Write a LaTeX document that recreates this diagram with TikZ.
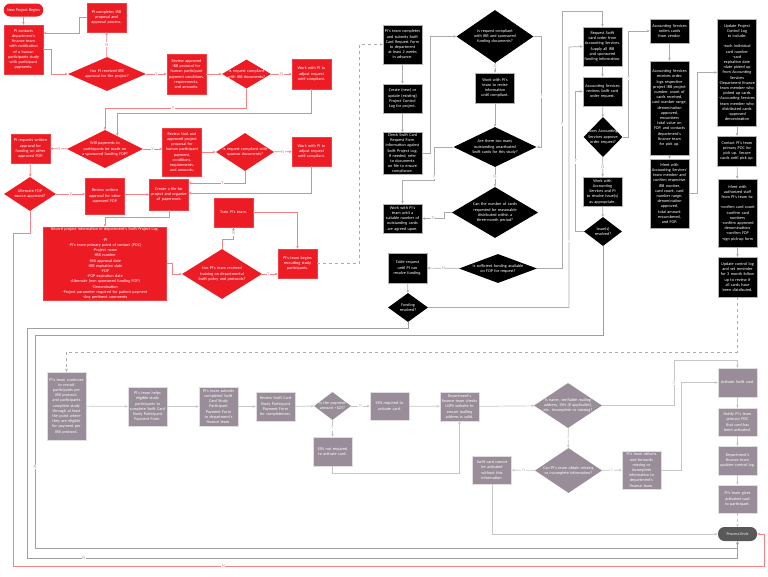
\documentclass[tikz,border=0pt]{standalone}
\usepackage{fontspec}
\newfontfamily\boxfont{Carlito}
\usetikzlibrary{shapes.geometric,arrows.meta,calc}
\hyphenpenalty=10000
\exhyphenpenalty=10000
\definecolor{swiftred}{RGB}{237,28,36}
\definecolor{swiftgray}{RGB}{152,141,152}
\definecolor{endgray}{RGB}{88,88,88}
\tikzset{
    box/.style     = {rectangle, align=center, text width=36pt, inner xsep=1.5pt, inner ysep=1pt,
                      font=\boxfont\fontsize{4.2}{5.2}\selectfont},
    redbox/.style  = {box, fill=swiftred, draw=swiftred!85!white, text=white},
    blkbox/.style  = {box, fill=black, draw=gray!60, text=white},
    grybox/.style  = {box, fill=swiftgray, draw=gray!25, text=white},
    diam/.style    = {diamond, aspect=2, align=center, inner xsep=-5pt, inner ysep=-1pt,
                      font=\boxfont\fontsize{4.2}{5.2}\selectfont},
    reddiam/.style = {diam, fill=swiftred, text=white},
    blkdiam/.style = {diam, fill=black, text=white},
    grydiam/.style = {diam, fill=swiftgray, text=white},
    pill/.style    = {rectangle, rounded corners=6.5pt, align=center, minimum width=39pt,
                      font=\boxfont\fontsize{4.2}{5.2}\selectfont},
    tip/.style     = {-{Stealth[length=3pt,width=2.6pt]}},
    redarr/.style  = {tip, color=swiftred!55, line width=0.7pt},
    blkarr/.style  = {tip, color=gray!65, line width=0.7pt},
    gryarr/.style  = {tip, color=gray!45, line width=0.7pt},
    dasharr/.style = {blkarr, dashed},
    lbl/.style     = {fill=white, inner sep=0.6pt, font=\boxfont\fontsize{4.6}{5}\selectfont}
}

\begin{document}
\begin{tikzpicture}[x=1pt, y=-1pt]
    \useasboundingbox (0,0) rectangle (768,576);

    % Red section: project set-up
    \node[pill, fill=swiftred, text=white, minimum height=13pt] (start) at (23.5,10) {New Project Begins};
    \node[redbox, minimum height=49pt] (contact) at (23.5,49.5) {PI contacts department's finance team with notification of a human participants study with participant payments.};
    \node[redbox, minimum height=29pt] (irbprop) at (106.5,17.5) {PI completes IRB proposal and approval process.};
    \node[reddiam, minimum width=78pt, minimum height=34pt, text width=60pt] (irbq) at (107,74) {Has PI received IRB approval for the project?};
    \node[redbox, minimum height=40pt] (revirb) at (186.5,74) {Review approved IRB protocol for human participant payment conditions, requirements, and amounts.};
    \node[reddiam, minimum width=49pt, minimum height=29pt, text width=40pt] (irbcomp) at (246.5,74) {Is request compliant with IRB documents?};
    \node[redbox, minimum height=30pt] (adjust1) at (311.5,74) {Work with PI to adjust request until compliant.};
    \node[reddiam, minimum width=76pt, minimum height=38pt, text width=58pt] (fopq) at (105,149) {Will payments to participants be made on a sponsored funding FOP?};
    \node[redbox, minimum height=29pt] (reqalt) at (30.5,148.5) {PI requests written approval for funding on other approved FOP.};
    \node[redbox, minimum height=48pt] (revnoa) at (182,152) {Review NoA and approved project proposal for human participant payment, conditions, requirements, and amounts.};
    \node[reddiam, minimum width=58pt, minimum height=38pt, text width=46pt] (spcomp) at (245,152) {Is request compliant with sponsor documents?};
    \node[redbox, minimum height=29pt] (adjust2) at (311.5,151.5) {Work with PI to adjust request until compliant.};
    \node[reddiam, minimum width=52pt, minimum height=34pt, text width=40pt] (altq) at (30,194) {Alternate FOP source approved?};
    \node[redbox, minimum height=36pt] (revalt) at (105,196) {Review written approval for other approved FOP.};
    \node[redbox, minimum height=31pt] (file) at (169,194.5) {Create a file for project and organize all paperwork.};
    \node[redbox, text width=120pt, minimum height=73pt] (record) at (105,263.5) {Record project information in department's Swift Project Log.\\[5.2pt]
        -PI\\ -PI's team primary point of contact (POC)\\ -Project name\\ -IRB number\\ -IRB approval date\\ -IRB expiration date\\ -FOP\\ -FOP expiration date\\
        -Alternate (non sponsored funding FOP)\\ -Denomination\\ -Project parameter required for patient payment\\ -Any pertinent comments};
    \node[reddiam, minimum width=80pt, minimum height=50pt, text width=60pt] (trainq) at (222,274) {Has PI's team received training on departmental Swift policy and protocols?};
    \node[redbox, minimum height=29pt] (train) at (233.5,212.5) {Train PI's team.};
    \node[redbox, minimum height=29pt] (recruit) at (297.5,263.5) {PI's team begins recruiting study participants.};

    % Black section: card request and pick-up
    \node[blkbox, minimum height=39pt] (submit) at (402.5,44.5) {PI's team completes and submits Swift Card Request Form to department at least 2 weeks in advance.};
    \node[blkbox, minimum height=29pt] (ctrllog) at (402.5,98.5) {Create (new) or update (existing) Project Control Log for project.};
    \node[blkbox, minimum height=39pt] (check) at (402.5,153.5) {Check Swift Card Request Form information against Swift Project Log. If needed, refer to documents on file to ensure compliance.};
    \node[blkdiam, minimum width=77pt, minimum height=53pt, text width=50pt] (fundq) at (495,36.5) {Is request compliant with IRB and sponsored funding documents?};
    \node[blkbox, minimum height=30pt] (revise) at (495,88) {Work with PI's team to revise information until compliant.};
    \node[blkdiam, minimum width=83pt, minimum height=40pt, text width=58pt] (manyq) at (495,147) {Are there too many outstanding unactivated Swift cards for this study?};
    \node[blkbox, minimum height=29pt] (agree) at (402.5,218.5) {Work with PI's team until a suitable number of outstanding cards are agreed upon.};
    \node[blkdiam, minimum width=85pt, minimum height=51pt, text width=62pt] (canq) at (495,212.5) {Can the number of cards requested be reasonable distributed within a three-month period?};
    \node[blkdiam, aspect=2.6, minimum width=78pt, minimum height=29pt, text width=66pt] (suffq) at (498,268.5) {Is sufficient funding available on FOP for request?};
    \node[blkbox, minimum height=30pt] (table) at (407.5,268) {Table request until PI can resolve funding.};
    \node[blkdiam, minimum width=40pt, minimum height=29pt, text width=26pt] (fundres) at (408,307.5) {Funding resolved?};
    \node[blkbox, minimum height=39pt] (order) at (602.5,46.5) {Request Swift card order from Accounting Services. Supply all IRB and sponsored funding information.};
    \node[blkbox, minimum height=29pt] (review) at (602.5,91.5) {Accounting Services reviews Swift card order request.};
    \node[blkdiam, aspect=1, minimum width=39pt, minimum height=40pt, text width=32pt] (approveq) at (603,137) {Does Accounting Services approve order request?};
    \node[blkbox, minimum height=29pt] (resolve) at (602.5,191.5) {Work with Accounting Services and PI to resolve issue(s) as appropriate.};
    \node[blkdiam, minimum width=38pt, minimum height=29pt, text width=24pt] (issueq) at (603,231.5) {Issue(s) resolved?};
    \node[blkbox, minimum height=24pt] (vendor) at (669.5,31) {Accounting Services orders cards from vendor.};
    \node[blkbox, minimum height=94pt] (receive) at (669.5,108) {Accounting Services receives order, logs respective project IRB project number, count of cards received, card number range, denomination approved, encumbers total value on FOP, and contacts department's finance team for pick up.};
    \node[blkbox, minimum height=69pt] (meetacc) at (669.5,193.5) {Meet with Accounting Services' team member and confirm respective IRB number, card count, card number range, denomination approved, total amount encumbered, and FOP.};
    \node[blkbox, minimum height=107pt] (updlog) at (737,72.5) {Update Project Control Log to include:\\[5.2pt]
        -each individual card number\\ -card expiration date\\ -date picked up from Accounting Services\\ -Department finance team member who picked up cards\\
        -Accounting Services team member who distributed cards\\ -approved denomination};
    \node[blkbox, minimum height=30pt] (contactpoc) at (737,151) {Contact PI's team primary POC for pick up. Secure cards until pick up.};
    \node[blkbox, minimum height=68pt] (meetstaff) at (737.5,213) {Meet with authorized staff from PI's team to:\\[5.2pt]
        -confirm card count\\ -confirm card numbers\\ -confirm approved denominations\\ -confirm FOP\\ -sign pick-up form};
    \node[blkbox, minimum height=40pt] (reminder) at (737.5,277) {Update control log and set reminder for 3 month follow up to review if all cards have been distributed.};

    % Gray section: payment and activation
    \node[grybox, minimum height=68pt] (continue) at (66.5,406) {PI's team continues to recruit participants per IRB protocol, and participants complete study through at least the point where they are eligible for payment per IRB protocol.};
    \node[grybox, minimum height=39pt] (helps) at (147.5,406.5) {PI's team helps eligible study participants to complete Swift Card Study Participant Payment Form.};
    \node[grybox, minimum height=39pt] (submitform) at (218.5,406.5) {PI's team submits completed Swift Card Study Participant Payment Form to department's finance team.};
    \node[grybox, minimum height=29pt] (reviewform) at (275.5,406.5) {Review Swift Card Study Participant Payment Form for completeness.};
    \node[grydiam, minimum width=37pt, minimum height=28pt, text width=28pt] (payq) at (332.5,406) {Is the payment amount <\$25?};
    \node[grybox, minimum height=28pt] (ssnreq) at (389.5,406) {SSN required to activate card.};
    \node[grybox, minimum height=29pt] (ssnnot) at (332.5,451.5) {SSN not required to activate card.};
    \node[grybox, minimum height=29pt] (usps) at (459.5,406.5) {Department's finance team checks USPS website to ensure mailing address is valid.};
    \node[grydiam, aspect=1.5, minimum width=68pt, minimum height=45pt, text width=54pt] (missq) at (568,405.5) {Is name, verifiable mailing address, SSN (if applicable), etc. incomplete or missing?};
    \node[grydiam, minimum width=67pt, minimum height=45pt, text width=56pt] (obtainq) at (568.5,470.5) {Can PI's team obtain missing or incomplete information?};
    \node[grybox, minimum height=28pt] (cannot) at (492,470) {Swift card cannot be activated without this information.};
    \node[grybox, minimum height=38pt] (forward) at (641.5,470) {PI's team obtains and forwards missing or incomplete information to department's finance team.};
    \node[grybox, minimum height=29pt] (activate) at (737.5,382.5) {Activate Swift card.};
    \node[grybox, minimum height=28pt] (notify) at (737.5,422) {Notify PI's team primary POC that card has been activated.};
    \node[grybox, minimum height=29pt] (updates) at (737.5,460.5) {Department's finance team updates control log.};
    \node[grybox, minimum height=28pt] (gives) at (737.5,499) {PI's team gives activated card to participant.};
    \node[pill, fill=endgray, text=gray!15, minimum height=14pt] (stop) at (737.5,534) {Process Ends};

    % Red connectors
    \draw[redarr] (start) -- (contact);
    \draw[redarr] (contact.east) -- ++(8,0) |- (irbq.west);
    \draw[redarr] (irbq) -- node[lbl]{N} (irbprop);
    \draw[redarr] (irbprop.west) -- ++(-7,0) |- (contact.east |- 0,33);
    \draw[redarr] (irbq) -- node[lbl]{Y} (revirb);
    \draw[redarr] (revirb) -- (irbcomp);
    \draw[redarr] (irbcomp) -- node[lbl]{N} (adjust1);
    \draw[redarr] (irbcomp.south) |- node[lbl, pos=0.76]{Y} (fopq.north |- 0,108) -- (fopq.north);
    \coordinate (fopin) at ($(fopq.north)!0.32!(fopq.east)$);
    \draw[redarr] (adjust1.south) |- (fopin |- 0,113) -- (fopin);
    \draw[redarr] (fopq) -- node[lbl]{N} (reqalt);
    \draw[redarr] (fopq.east) -- node[lbl]{Y} (fopq.east -| revnoa.west);
    \draw[redarr] (revnoa) -- (spcomp);
    \draw[redarr] (spcomp) -- node[lbl]{N} (adjust2);
    \draw[redarr] (spcomp.south) |- node[lbl, pos=0.7]{Y} (file.east |- 0,183);
    \draw[redarr] (adjust2.south) |- (file.east |- 0,193);
    \draw[redarr] (reqalt) -- (altq);
    \draw[redarr] (altq.east) -- node[lbl]{Y} (altq.east -| revalt.west);
    \draw[redarr] (revalt.east |- file.west) -- (file.west);
    \draw[redarr] (file.south) -- ++(0,7) -| (record.north);
    \draw[redarr] (record.east) -- ++(6,0) |- (trainq.west);
    \draw[redarr] (trainq.north) -- ++(0,-9) -| node[lbl, pos=0.75]{N} (train.south);
    \draw[redarr] (train.east) -| (recruit.north);
    \draw[redarr] (trainq.east) -- node[lbl, pos=0.4]{Y} (trainq.east -| recruit.west);
    \draw[redarr] (altq.south) -- ++(0,22) -| (13,566) -- node[lbl, pos=0.28]{N} (764,566) |- (stop.east);

    % Black section connectors
    \draw[dasharr] (recruit.east) -- ++(42,0) |- (submit.west);
    \draw[blkarr] (submit) -- (ctrllog);
    \draw[blkarr] (ctrllog) -- (check);
    \draw[blkarr] (check.east) -- ++(8,0) |- (fundq.west);
    \draw[blkarr] (fundq) -- node[lbl, pos=0.25]{N} (revise);
    \draw[blkarr] (revise) -- (manyq);
    \draw[blkarr] (fundq.east) -- ++(8,0) |- node[lbl, pos=0.27]{Y} (manyq.east);
    \draw[blkarr] (manyq.west) -| node[lbl, pos=0.95]{Y} (434,180) -| (agree.north);
    \draw[blkarr] (manyq) -- node[lbl]{N} (canq);
    \draw[blkarr] (canq.west) -- ++(-7,0) |- node[lbl, pos=0.75]{N} (agree.east);
    \draw[blkarr] (suffq) -- node[lbl]{N} (table);
    \draw[blkarr] (table) -- (fundres);
    \draw[blkarr] (suffq.east) -| node[lbl, pos=0.78]{Y} (562,11) -| (order.north);
    \draw[blkarr] (fundres.east) -| node[lbl, pos=0.63]{Y} (569,47) -- (order.west);
    \draw[blkarr, color=gray!75] (fundres.south) |- (27,328) |- node[lbl, pos=0.54]{N} (stop.south |- 0,558) -- (stop.south);
    \draw[blkarr] (order) -- (review);
    \draw[blkarr] (review) -- (approveq);
    \draw[blkarr] (approveq.east) -- ++(6,0) |- node[lbl, pos=0.28]{Y} (vendor.west);
    \draw[blkarr] (approveq) -- node[lbl]{N} (resolve);
    \draw[blkarr] (resolve) -- (issueq);
    \draw[blkarr] (issueq.west) -- ++(-8,0) |- node[lbl, pos=0.25]{Y} (review.west);
    \draw[blkarr, color=gray!75] (issueq.south) |- (35,335) |- node[lbl, pos=0.31]{N} (stop.south |- 0,548) -- (stop.south);
    \draw[blkarr] (vendor) -- (receive);
    \draw[blkarr] (receive) -- (meetacc);
    \draw[blkarr] (meetacc.east) -- ++(8,0) |- (updlog.west);
    \draw[blkarr] (updlog) -- (contactpoc);
    \draw[blkarr] (contactpoc) -- (meetstaff);
    \draw[blkarr] (meetstaff) -- (reminder);
    \draw[dasharr] (reminder.south) |- (continue.north |- 0,352) -- (continue.north);

    % Gray section connectors
    \draw[gryarr] (continue) -- (helps);
    \draw[gryarr] (helps) -- (submitform);
    \draw[gryarr] (submitform) -- (reviewform);
    \draw[gryarr] (reviewform) -- (payq);
    \draw[gryarr] (payq) -- node[lbl]{N} (ssnreq);
    \draw[gryarr] (payq) -- node[lbl]{Y} (ssnnot);
    \draw[gryarr] (ssnreq) -- (usps);
    \draw[gryarr] (ssnnot.south) -- ++(0,7) -| (usps.south);
    \draw[gryarr] (usps) -- (missq);
    \draw[gryarr] (missq.east) -| node[lbl, pos=0.75]{N} (674,360) -| (activate.north);
    \draw[gryarr] (missq) -- node[lbl]{Y} (obtainq);
    \draw[gryarr] (obtainq) -- node[lbl]{N} (cannot);
    \draw[gryarr] (obtainq) -- node[lbl]{Y} (forward);
    \draw[gryarr] (forward.east) -- ++(20,0) |- (activate.west);
    \draw[gryarr] (activate) -- (notify);
    \draw[gryarr] (notify) -- (updates);
    \draw[gryarr] (updates) -- (gives);
    \draw[gryarr, dashed] (gives) -- (stop);
    \draw[gryarr] (cannot.south) |- (stop.west);
\end{tikzpicture}
\end{document}
